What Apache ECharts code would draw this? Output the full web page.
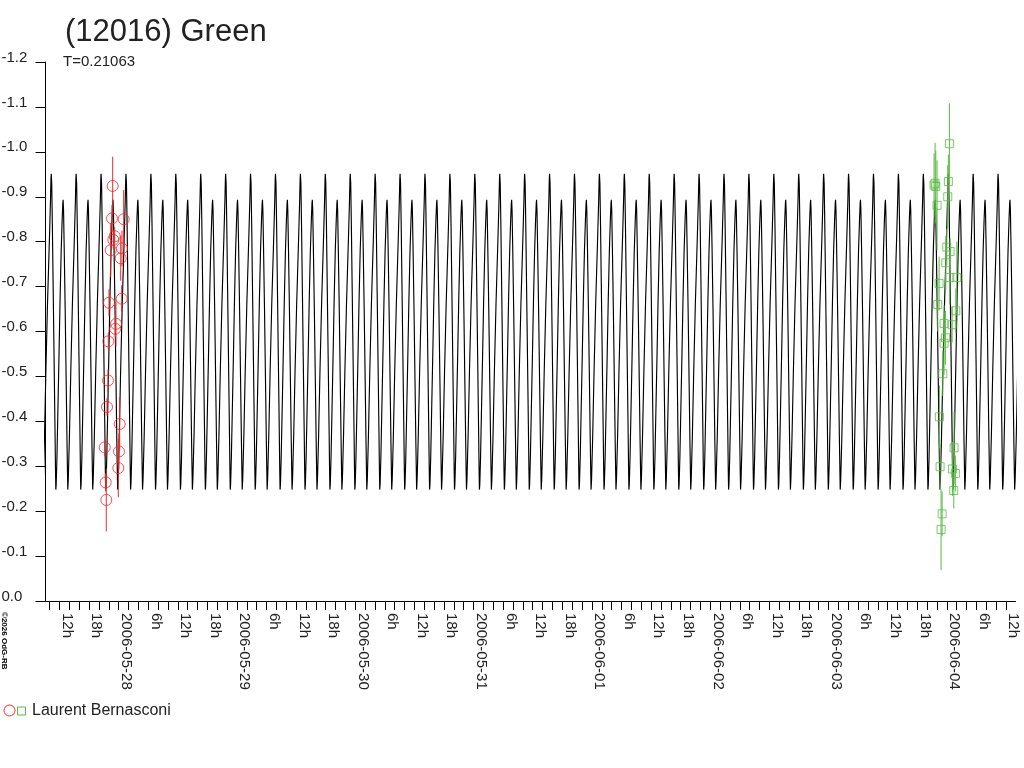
<!DOCTYPE html>
<html>
<head>
<meta charset="utf-8">
<script src="https://cdn.jsdelivr.net/npm/echarts@6/dist/echarts.min.js"></script>
<style>
html,body{margin:0;padding:0;background:#fff;}
#chart{width:1024px;height:768px;}
</style>
</head>
<body>
<div id="chart"></div>
<script>
// Time is expressed in hours after 2006-05-27 00:00
const titleText = '(12016) Green';
const subtitleText = 'T=0.21063';
const observer = 'Laurent Bernasconi';
const copyrightText = '\u00a92026 OdG-RB';

// Rotation model (one period), tall maximum at epoch
const periodDays = 0.21063;
const epochHours = 10.31;
const profilePhase = [0.000, 0.020, 0.045, 0.080, 0.115, 0.150, 0.172, 0.185,
  0.200, 0.230, 0.270, 0.310, 0.355, 0.400, 0.440, 0.465, 0.478,
  0.495, 0.520, 0.560, 0.600, 0.635, 0.655, 0.665,
  0.685, 0.730, 0.785, 0.850, 0.930, 0.970, 0.990];
const profileMag = [-0.951, -0.930, -0.840, -0.690, -0.540, -0.390, -0.290, -0.248,
  -0.260, -0.320, -0.430, -0.540, -0.670, -0.780, -0.850, -0.885, -0.893,
  -0.870, -0.790, -0.650, -0.490, -0.350, -0.280, -0.248,
  -0.270, -0.365, -0.510, -0.660, -0.810, -0.890, -0.940];

// Night 1 (red circles)
const redTime = [22.78, 22.64, 25.01, 23.19, 22.90, 24.67, 22.38, 24.41, 24.61, 22.03, 23.45,
  23.31, 21.89, 21.83, 21.63, 24.20, 21.16, 24.06, 23.92, 21.36, 21.48];
const redMag = [-0.924, -0.852, -0.850, -0.812, -0.804, -0.785, -0.781, -0.763, -0.673, -0.664, -0.617,
  -0.606, -0.578, -0.491, -0.432, -0.394, -0.342, -0.333, -0.296, -0.264, -0.225];
const redErr = [0.065, 0.030, 0.065, 0.020, 0.020, 0.040, 0.060, 0.050, 0.030, 0.030, 0.050,
  0.020, 0.020, 0.025, 0.020, 0.060, 0.020, 0.040, 0.065, 0.020, 0.070];

// Night 2 (green squares)
const greenTime = [192.53, 192.32, 189.63, 189.77, 189.42, 192.20, 190.03, 192.00, 192.67, 191.80,
  192.61, 194.03, 190.44, 190.17, 193.83, 191.45, 193.08, 191.72, 191.45, 191.19,
  190.50, 193.48, 190.64, 193.14, 193.74, 193.42, 191.05, 190.84];
const greenMag = [-1.018, -0.934, -0.930, -0.923, -0.926, -0.900, -0.881, -0.788, -0.778, -0.753,
  -0.720, -0.720, -0.707, -0.660, -0.646, -0.618, -0.615, -0.586, -0.574, -0.506,
  -0.410, -0.341, -0.299, -0.294, -0.284, -0.246, -0.194, -0.159];
const greenErr = [0.090, 0.060, 0.090, 0.080, 0.070, 0.070, 0.100, 0.040, 0.030, 0.060,
  0.060, 0.080, 0.060, 0.060, 0.050, 0.040, 0.040, 0.060, 0.070, 0.050,
  0.070, 0.080, 0.050, 0.060, 0.040, 0.040, 0.050, 0.090];

// Axis labels
const dayLabels = ['2006-05-28', '2006-05-29', '2006-05-30', '2006-05-31',
  '2006-06-01', '2006-06-02', '2006-06-03', '2006-06-04'];
const hourLabels = ['6h', '12h', '18h'];
const xMin = 9.15, xMax = 205.94;
const yMin = -1.2, yMax = 0.0, yStep = 0.1;

// Build the model curve from the one-period profile
const periodHours = periodDays * 24;
const curve = [];
for (let n = -2; n <= 40; n++) {
  for (let k = 0; k < profilePhase.length; k++) {
    curve.push([epochHours + (n + profilePhase[k]) * periodHours, profileMag[k]]);
  }
}

// Ticks every 2h, labels every 6h
const tickVals = [];
for (let h = 10; h <= 204; h += 2) tickVals.push(h);
const labelVals = [];
for (let h = 12; h <= 204; h += 6) labelVals.push(h);
function xLabel(v) {
  const h = Math.round(v);
  if (h % 24 === 0) return dayLabels[h / 24 - 1] || '';
  return hourLabels[(h % 24) / 6 - 1] || '';
}

const redPts = redTime.map((t, i) => [t, redMag[i]]);
const greenPts = greenTime.map((t, i) => [t, greenMag[i]]);
const redBars = redTime.map((t, i) => [t, redMag[i] - redErr[i], redMag[i] + redErr[i]]);
const greenBars = greenTime.map((t, i) => [t, greenMag[i] - greenErr[i], greenMag[i] + greenErr[i]]);

const RED = '#ee2a2a';
const GREEN = '#5dba48';
const TXT = '#222';
const FONT = '"Liberation Sans", Arial, sans-serif';

function barRenderer(color) {
  return function (params, api) {
    const p1 = api.coord([api.value(0), api.value(1)]);
    const p2 = api.coord([api.value(0), api.value(2)]);
    return {
      type: 'line',
      shape: { x1: p1[0], y1: p1[1], x2: p2[0], y2: p2[1] },
      style: { stroke: color, lineWidth: 1 }
    };
  };
}

const chart = echarts.init(document.getElementById('chart'));
chart.setOption({
  animation: false,
  backgroundColor: '#fff',
  grid: { left: 45.5, right: 8.5, top: 62, bottom: 167, outerBoundsMode: 'none', containLabel: false },
  xAxis: {
    type: 'value', min: xMin, max: xMax,
    splitLine: { show: false },
    axisLine: { show: true, lineStyle: { color: '#000', width: 1 } },
    axisTick: { show: true, length: 9, lineStyle: { color: '#000' }, customValues: tickVals },
    axisLabel: {
      show: true, customValues: labelVals, rotate: -90, margin: 12,
      formatter: xLabel, color: TXT, fontFamily: FONT, fontSize: 15,
      verticalAlign: 'bottom'
    }
  },
  yAxis: {
    type: 'value', min: yMin, max: yMax, interval: yStep, inverse: true,
    splitLine: { show: false },
    axisLine: { show: true, onZero: false, lineStyle: { color: '#000', width: 1 } },
    axisTick: { show: true, length: 10, lineStyle: { color: '#000' } },
    axisLabel: {
      show: true, margin: 44, align: 'left', verticalAlign: 'bottom', lineHeight: 9,
      formatter: v => (Math.abs(v) < 1e-9 ? 0 : v).toFixed(1),
      color: TXT, fontFamily: FONT, fontSize: 15
    }
  },
  series: [
    {
      type: 'line', data: curve, showSymbol: false, symbol: 'none', clip: true,
      lineStyle: { color: '#000', width: 1.15 }, silent: true, z: 1
    },
    { type: 'custom', data: redBars, renderItem: barRenderer(RED), encode: { x: 0, y: [1, 2] }, silent: true, z: 2 },
    { type: 'custom', data: greenBars, renderItem: barRenderer(GREEN), encode: { x: 0, y: [1, 2] }, silent: true, z: 2 },
    {
      type: 'scatter', data: redPts, symbol: 'circle', symbolSize: 11,
      itemStyle: { color: 'rgba(0,0,0,0)', borderColor: RED, borderWidth: 1 }, silent: true, z: 3
    },
    {
      type: 'scatter', data: greenPts, symbol: 'rect', symbolSize: 8,
      itemStyle: { color: 'rgba(0,0,0,0)', borderColor: GREEN, borderWidth: 1 }, silent: true, z: 3
    }
  ],
  graphic: [
    { type: 'text', left: 65, top: 17, style: { text: titleText, font: '31px ' + FONT, fill: TXT } },
    { type: 'text', left: 63, top: 54, style: { text: subtitleText, font: '15px ' + FONT, fill: TXT } },
    { type: 'circle', shape: { cx: 9.5, cy: 710.5, r: 5.5 }, style: { fill: 'none', stroke: RED, lineWidth: 1 } },
    { type: 'rect', shape: { x: 17.5, y: 707, width: 8, height: 8 }, style: { fill: 'none', stroke: GREEN, lineWidth: 1 } },
    { type: 'text', left: 32, top: 703, style: { text: observer, font: '16px ' + FONT, fill: TXT } },
    {
      type: 'text', x: 4.5, y: 612, rotation: -Math.PI / 2,
      style: { text: copyrightText, font: 'bold 8px ' + FONT, fill: '#000', align: 'left', verticalAlign: 'middle' }
    }
  ]
});
</script>
</body>
</html>
